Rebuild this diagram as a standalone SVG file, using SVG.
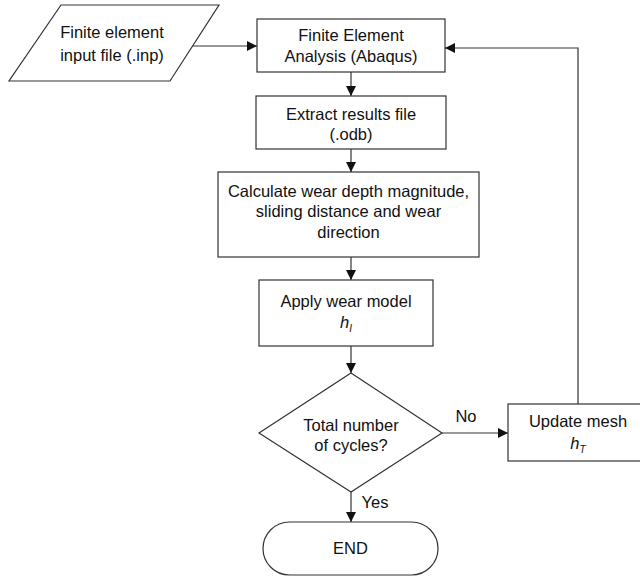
<svg xmlns="http://www.w3.org/2000/svg" width="640" height="578" viewBox="0 0 640 578">
<style>
.s{fill:#fff;stroke:#333;stroke-width:1.2}
.t{font-family:"Liberation Sans",Arial,sans-serif;font-size:16.5px;fill:#111;text-anchor:middle}
.c{fill:none;stroke:#333;stroke-width:1.2}
</style>
<defs>
<marker id="ah" markerWidth="10" markerHeight="10" refX="10" refY="5" orient="auto" markerUnits="userSpaceOnUse">
<path d="M0,0 L10,5 L0,10 Z" fill="#111"/>
</marker>
</defs>
<rect width="640" height="578" fill="#fff"/>
<g id="connectors">
<line class="c" x1="192" y1="46" x2="257" y2="46" marker-end="url(#ah)"/>
<line class="c" x1="351" y1="72" x2="351" y2="96" marker-end="url(#ah)"/>
<line class="c" x1="351" y1="149" x2="351" y2="172" marker-end="url(#ah)"/>
<line class="c" x1="351" y1="257" x2="351" y2="280" marker-end="url(#ah)"/>
<line class="c" x1="351" y1="346" x2="351" y2="373" marker-end="url(#ah)"/>
<line class="c" x1="442" y1="433" x2="508" y2="433" marker-end="url(#ah)"/>
<polyline class="c" points="578,404 578,48 445,48" marker-end="url(#ah)"/>
<line class="c" x1="351" y1="492" x2="351" y2="522" marker-end="url(#ah)"/>
<text class="t" x="466" y="422">No</text>
<text class="t" x="375" y="508">Yes</text>
</g>
<g id="input">
<polygon class="s" points="61,5 219,5 170,81 9,81"/>
<text class="t" x="112" y="38">Finite element</text>
<text class="t" x="112" y="61">input file (.inp)</text>
</g>
<g id="fea">
<rect class="s" x="257" y="19" width="188" height="53"/>
<text class="t" x="351" y="41">Finite Element</text>
<text class="t" x="351" y="62">Analysis (Abaqus)</text>
</g>
<g id="extract">
<rect class="s" x="256" y="96" width="190" height="53"/>
<text class="t" x="351" y="120">Extract results file</text>
<text class="t" x="351" y="140">(.odb)</text>
</g>
<g id="calculate">
<rect class="s" x="218" y="172" width="261" height="85"/>
<text class="t" x="348.5" y="197">Calculate wear depth magnitude,</text>
<text class="t" x="348.5" y="217">sliding distance and wear</text>
<text class="t" x="348.5" y="238">direction</text>
</g>
<g id="apply">
<rect class="s" x="259" y="280" width="174" height="66"/>
<text class="t" x="346" y="307">Apply wear model</text>
<text class="t" x="346" y="328" font-style="italic">h<tspan font-size="10" dy="4">I</tspan></text>
</g>
<g id="decision">
<polygon class="s" points="351,373 442,433 351,492 259,433"/>
<text class="t" x="351" y="431">Total number</text>
<text class="t" x="351" y="451">of cycles?</text>
</g>
<g id="update">
<rect class="s" x="508" y="404" width="140" height="57"/>
<text class="t" x="578" y="427">Update mesh</text>
<text class="t" x="578" y="449" font-style="italic">h<tspan font-size="10" dy="4">T</tspan></text>
</g>
<g id="end">
<rect class="s" x="263" y="522" width="175" height="53" rx="26.5" ry="26.5"/>
<text class="t" x="350.5" y="554">END</text>
</g>
</svg>
